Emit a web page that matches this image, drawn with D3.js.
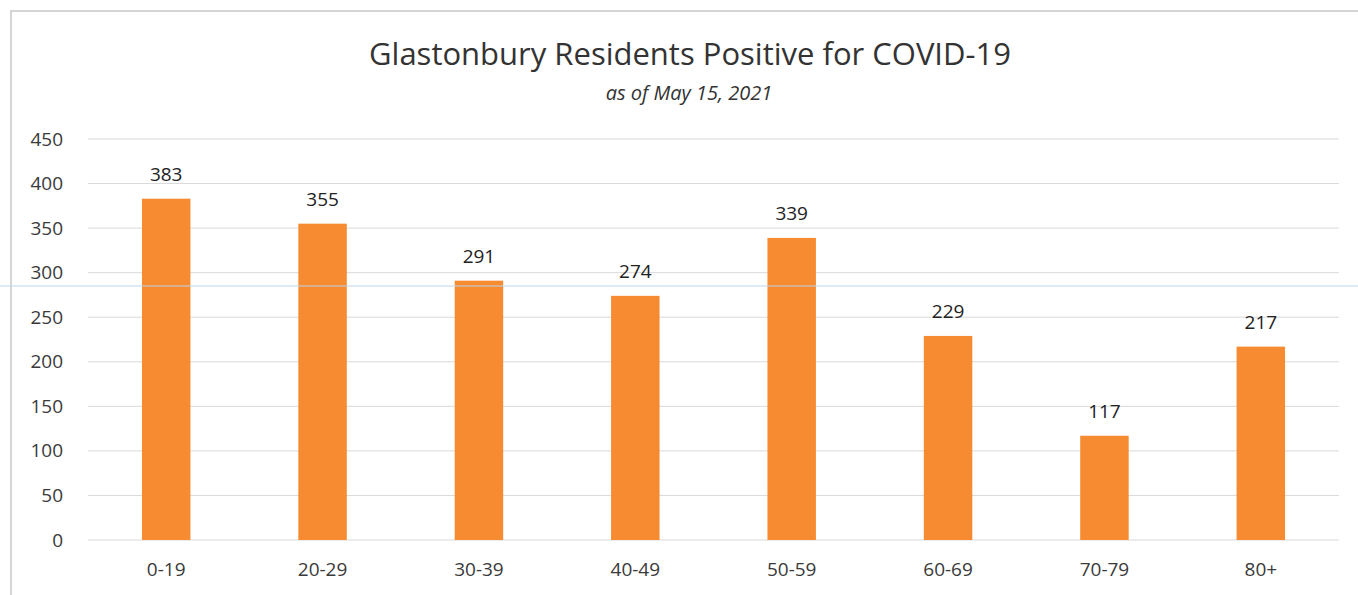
<!DOCTYPE html>
<html>
<head>
<script src="https://d3js.org/d3.v7.min.js"></script>
<style>
  body { margin: 0; background: #fff; }
  text { font-family: "Open Sans", "Noto Sans", sans-serif; }
</style>
</head>
<body>
<svg width="1358" height="595"></svg>
<script>
  // data
  var ageGroups = ["0-19", "20-29", "30-39", "40-49", "50-59", "60-69", "70-79", "80+"];
  var positives = [383, 355, 291, 274, 339, 229, 117, 217];
  var yTicks = [0, 50, 100, 150, 200, 250, 300, 350, 400, 450];

  var svg = d3.select("svg");

  // plot area
  var plotLeft = 88, plotRight = 1339, plotTop = 139, plotBottom = 540;

  var x = d3.scaleBand().domain(ageGroups).range([plotLeft, plotRight]).paddingInner(0.69).paddingOuter(0.345);
  var y = d3.scaleLinear().domain([0, 450]).range([plotBottom, plotTop]);

  // frame
  svg.append("path")
    .attr("d", "M11,595 L11,11 L1358,11")
    .attr("fill", "none")
    .attr("stroke", "#c8c8c8")
    .attr("stroke-width", 1.5);

  // gridlines
  svg.append("g")
    .selectAll("line")
    .data(yTicks)
    .enter().append("line")
    .attr("x1", plotLeft).attr("x2", plotRight)
    .attr("y1", function(d) { return y(d); })
    .attr("y2", function(d) { return y(d); })
    .attr("stroke", "#d9d9d9")
    .attr("stroke-width", 1);

  // y axis labels
  var yAxis = svg.append("g")
    .attr("transform", "translate(69,0)")
    .call(d3.axisLeft(y).tickValues(yTicks).tickSize(0).tickPadding(6));
  yAxis.select(".domain").remove();
  yAxis.selectAll("text")
    .attr("font-size", "19px")
    .attr("fill", "#3a3a3a")
    .style("font-family", "'Open Sans', sans-serif");

  // x axis labels
  var xAxis = svg.append("g")
    .attr("transform", "translate(0," + plotBottom + ")")
    .call(d3.axisBottom(x).tickSize(0).tickPadding(23));
  xAxis.select(".domain").remove();
  xAxis.selectAll("text")
    .attr("font-size", "19px")
    .attr("fill", "#3a3a3a")
    .style("font-family", "'Open Sans', sans-serif");

  // bars
  svg.selectAll(".bar")
    .data(positives)
    .enter().append("rect")
    .attr("class", "bar")
    .attr("x", function(d, i) { return x(ageGroups[i]); })
    .attr("y", function(d) { return y(d); })
    .attr("width", x.bandwidth())
    .attr("height", function(d) { return plotBottom - y(d); })
    .attr("fill", "#f68b31");

  // value labels
  svg.selectAll(".val")
    .data(positives)
    .enter().append("text")
    .attr("class", "val")
    .attr("x", function(d, i) { return x(ageGroups[i]) + x.bandwidth() / 2; })
    .attr("y", function(d) { return y(d) - 18; })
    .attr("text-anchor", "middle")
    .attr("font-size", "19px")
    .attr("fill", "#222")
    .text(function(d) { return d; });

  // scan artifact line
  svg.append("line")
    .attr("x1", 0).attr("x2", 1358)
    .attr("y1", 286).attr("y2", 286)
    .attr("stroke", "#bcd6ee")
    .attr("stroke-width", 1);

  // title
  svg.append("text")
    .attr("x", 690).attr("y", 65)
    .attr("text-anchor", "middle")
    .attr("font-size", "31px")
    .attr("fill", "#333")
    .text("Glastonbury Residents Positive for COVID-19");

  svg.append("text")
    .attr("x", 689).attr("y", 100)
    .attr("text-anchor", "middle")
    .attr("font-size", "20px")
    .attr("font-style", "italic")
    .attr("fill", "#333")
    .text("as of May 15, 2021");
</script>
</body>
</html>
